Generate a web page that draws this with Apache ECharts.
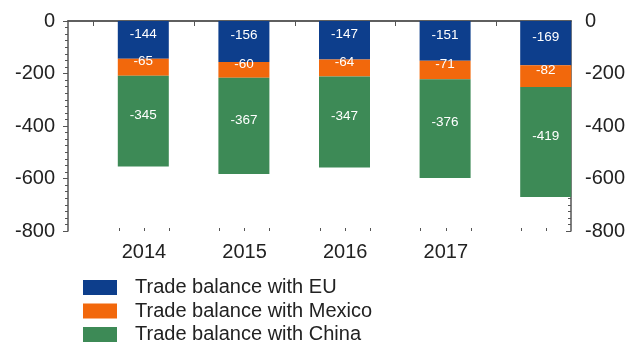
<!DOCTYPE html>
<html>
<head>
<meta charset="utf-8">
<script src="https://cdn.jsdelivr.net/npm/echarts@6/dist/echarts.min.js"></script>
<style>html,body{margin:0;padding:0;background:#fff;}#c{width:639px;height:343px;}</style>
</head>
<body>
<div id="c"></div>
<script>
var years = ['2014', '2015', '2016', '2017', '2018'];
var tickLabels = [2014, 2015, 2016, 2017];
var euValues = [-144, -156, -147, -151, -169];
var mexicoValues = [-65, -60, -64, -71, -82];
var chinaValues = [-345, -367, -347, -376, -419];
var seriesNames = ['Trade balance with EU', 'Trade balance with Mexico', 'Trade balance with China'];
var colors = ['#0d3e8c', '#f2680c', '#3d8a56'];

var yearNums = years.map(Number);
var majorX = yearNums.map(function (y) { return y - 0.5; });
var minorX = [];
yearNums.forEach(function (y) { minorX.push(y - 0.25, y, y + 0.25); });

var xMin = 2013.245, xMax = 2018.245;
var axisColor = '#555';
var lbl = { show: true, position: 'inside', offset: [0, -6], color: '#fff', fontSize: 13.5, fontFamily: 'Liberation Sans' };

var chart = echarts.init(document.getElementById('c'), null, { renderer: 'canvas' });
chart.setOption({
  animation: false,
  color: colors,
  textStyle: { fontFamily: 'Liberation Sans' },
  grid: [
    { left: 93, right: 43, top: 21, bottom: 112, containLabel: false },
    { left: 68, right: 68, top: 21, bottom: 112, containLabel: false }
  ],
  legend: {
    orient: 'vertical', left: 83, top: 277, height: 90, itemWidth: 34, itemHeight: 15, itemGap: 2.5,
    padding: 0, icon: 'rect', data: seriesNames,
    textStyle: { fontSize: 20, color: '#222', lineHeight: 21, padding: [0, 0, 0, 13] }
  },
  xAxis: [
    { type: 'category', gridIndex: 0, data: years, boundaryGap: true, show: false },
    { type: 'value', gridIndex: 1, min: xMin, max: xMax, position: 'bottom',
      axisLine: { show: true, lineStyle: { color: axisColor, width: 1.5 } },
      axisTick: { show: true, customValues: majorX, length: 5, lineStyle: { color: axisColor } },
      axisLabel: { show: true, customValues: tickLabels, fontSize: 20, color: '#222', margin: 11,
        formatter: function (v) { return String(Math.round(v)); } },
      splitLine: { show: false } },
    { type: 'value', gridIndex: 1, min: xMin, max: xMax, position: 'top',
      axisLine: { show: true, lineStyle: { color: axisColor, width: 1.5 } },
      axisTick: { show: true, inside: true, customValues: majorX, length: 4, lineStyle: { color: axisColor } },
      axisLabel: { show: false }, splitLine: { show: false } },
    { type: 'value', gridIndex: 1, min: xMin, max: xMax, position: 'bottom',
      axisLine: { show: false },
      axisTick: { show: true, inside: true, customValues: minorX, length: 3, lineStyle: { color: axisColor } },
      axisLabel: { show: false }, splitLine: { show: false } }
  ],
  yAxis: [
    { type: 'value', gridIndex: 0, min: -800, max: 0, show: false, splitLine: { show: false } },
    { type: 'value', gridIndex: 1, min: -800, max: 0, interval: 200, position: 'left',
      axisLine: { show: true, lineStyle: { color: axisColor, width: 1.5 } },
      axisTick: { show: true, length: 5, lineStyle: { color: axisColor } },
      minorTick: { show: true, splitNumber: 8, length: 3, lineStyle: { color: axisColor } },
      axisLabel: { fontSize: 20, color: '#222', margin: 13 },
      splitLine: { show: false } },
    { type: 'value', gridIndex: 1, min: -800, max: 0, interval: 200, position: 'right',
      axisLine: { show: true, lineStyle: { color: axisColor, width: 1.5 } },
      axisTick: { show: true, inside: true, length: 5, lineStyle: { color: axisColor } },
      minorTick: { show: true, splitNumber: 8, length: 3, lineStyle: { color: axisColor } },
      axisLabel: { fontSize: 20, color: '#222', margin: 14 },
      splitLine: { show: false } }
  ],
  series: [
    { name: seriesNames[0], type: 'bar', stack: 'total', barWidth: 51, xAxisIndex: 0, yAxisIndex: 0,
      data: euValues, label: lbl },
    { name: seriesNames[1], type: 'bar', stack: 'total', barWidth: 51, xAxisIndex: 0, yAxisIndex: 0,
      data: mexicoValues, label: lbl },
    { name: seriesNames[2], type: 'bar', stack: 'total', barWidth: 51, xAxisIndex: 0, yAxisIndex: 0,
      data: chinaValues, label: lbl }
  ]
});
</script>
</body>
</html>
